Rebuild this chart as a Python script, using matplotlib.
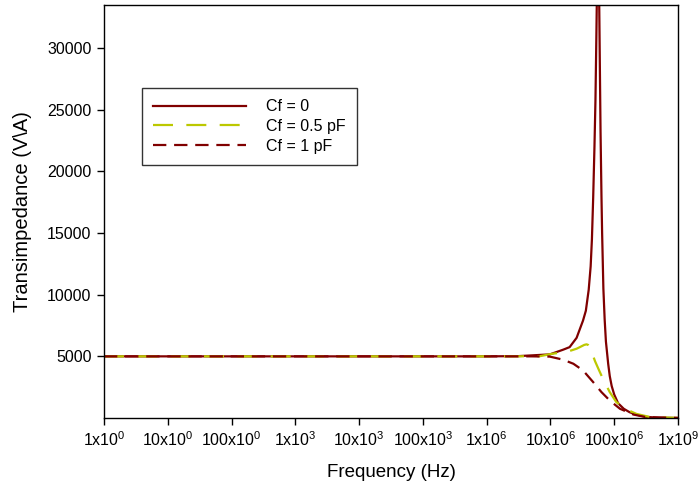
import matplotlib
matplotlib.use("Agg")
import matplotlib.pyplot as plt

plt.rcParams['font.family'] = ['Liberation Sans', 'DejaVu Sans']
plt.rcParams['mathtext.fontset'] = 'custom'
plt.rcParams['mathtext.rm'] = 'Liberation Sans'

# values (frequency in Hz, transimpedance in V/A)
freq_cf0 = [1, 1e3, 1e6, 3.16e6, 9.77e6, 1.58e7, 2.0e7, 2.57e7, 3.24e7, 3.59e7,
            3.98e7, 4.27e7, 4.47e7, 4.68e7, 4.90e7, 5.08e7, 5.25e7, 5.53e7, 5.82e7,
            6.10e7, 6.31e7, 6.46e7, 6.76e7, 7.08e7, 7.41e7, 8.04e7, 8.51e7, 9.12e7,
            1.0e8, 1.15e8, 1.41e8, 1.74e8, 2.24e8, 3.16e8, 5.0e8, 1e9]
z_cf0 = [5000, 5000, 5000, 5020, 5160, 5540, 5750, 6500, 7900, 8700,
         10400, 12300, 14500, 17900, 22000, 25800, 31000, 40000, 33500,
         23300, 18000, 15000, 10500, 8000, 6200, 4400, 3400, 2600,
         1900, 1200, 750, 470, 270, 90, 25, 5]

freq_cf05 = [1, 1e3, 1e6, 6.76e6, 1.1e7, 1.78e7, 2.57e7, 2.82e7, 3.16e7, 3.39e7,
             3.68e7, 3.89e7, 4.07e7, 4.47e7, 5.01e7, 5.75e7, 6.76e7, 8.51e7,
             1.08e8, 1.55e8, 2.24e8, 3.63e8, 1e9]
z_cf05 = [5000, 5000, 5000, 5010, 5220, 5350, 5620, 5720, 5850, 5930,
          5975, 5930, 5800, 5300, 4600, 3900, 3100, 2100,
          1290, 700, 330, 80, 5]

freq_cf1 = [1, 1e3, 1e6, 5e6, 9.77e6, 1.58e7, 2.29e7, 3.24e7, 4.68e7, 6.31e7,
            8.51e7, 1.23e8, 2e8, 3.16e8, 1e9]
z_cf1 = [5000, 5000, 5000, 5000, 4980, 4730, 4400, 3860, 2910, 2100,
         1420, 750, 280, 70, 5]

x_ticks = [1e0, 1e1, 1e2, 1e3, 1e4, 1e5, 1e6, 1e7, 1e8, 1e9]
x_tick_labels = [r'1x10$^{\mathregular{0}}$', r'10x10$^{\mathregular{0}}$',
                 r'100x10$^{\mathregular{0}}$', r'1x10$^{\mathregular{3}}$',
                 r'10x10$^{\mathregular{3}}$', r'100x10$^{\mathregular{3}}$',
                 r'1x10$^{\mathregular{6}}$', r'10x10$^{\mathregular{6}}$',
                 r'100x10$^{\mathregular{6}}$', r'1x10$^{\mathregular{9}}$']
y_ticks = [5000, 10000, 15000, 20000, 25000, 30000]

dark_red = '#800000'
yellow = '#bcc800'

fig = plt.figure(figsize=(6.99, 4.90), dpi=100)
ax = fig.add_axes([104/699, 72/490, 574/699, 413/490])

ax.plot(freq_cf0, z_cf0, color=dark_red, lw=1.6, label='Cf = 0')
ax.plot(freq_cf05, z_cf05, color=yellow, lw=1.6, dashes=(9, 6), label='Cf = 0.5 pF')
ax.plot(freq_cf1, z_cf1, color=dark_red, lw=1.6, dashes=(6, 3.5), label='Cf = 1 pF')

ax.set_xscale('log')
ax.set_xlim(1, 1e9)
ax.set_ylim(0, 33500)
ax.set_xticks(x_ticks)
ax.set_xticklabels(x_tick_labels)
ax.minorticks_off()
ax.set_yticks(y_ticks)
ax.tick_params(direction='out', length=5, width=1, labelsize=11.5, pad=4)

for s in ax.spines.values():
    s.set_linewidth(1)
    s.set_color('black')

ax.set_xlabel('Frequency (Hz)', fontsize=13.5, labelpad=11)
ax.set_ylabel('Transimpedance (V\\A)', fontsize=14.5, labelpad=11)

leg = ax.legend(loc='upper left', bbox_to_anchor=(141.7/699, 1 - 88/490),
                bbox_transform=fig.transFigure, fontsize=11.5, frameon=True,
                fancybox=False, borderpad=0.7, handlelength=5.8, handletextpad=1.3,
                labelspacing=0.3, borderaxespad=0)
leg.get_frame().set_edgecolor('black')
leg.get_frame().set_linewidth(1)

fig.savefig('out.png', dpi=100)
